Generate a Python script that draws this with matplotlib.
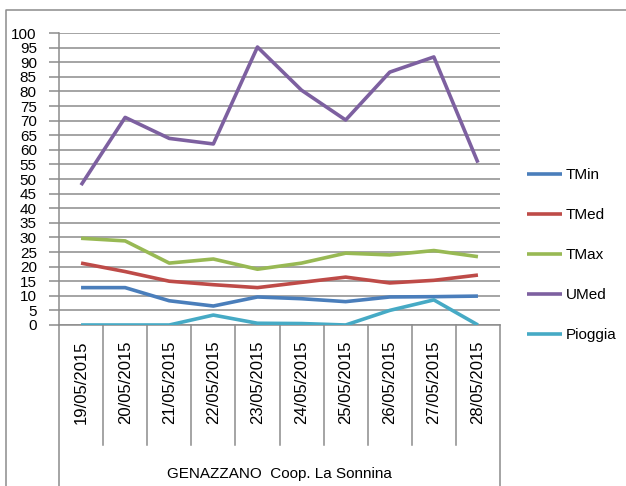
import matplotlib
matplotlib.use("Agg")
import matplotlib.pyplot as plt
from matplotlib.lines import Line2D
from matplotlib.transforms import blended_transform_factory

plt.rcParams['font.family'] = ['Liberation Sans', 'DejaVu Sans']

dates = ["19/05/2015", "20/05/2015", "21/05/2015", "22/05/2015", "23/05/2015",
         "24/05/2015", "25/05/2015", "26/05/2015", "27/05/2015", "28/05/2015"]
tmin = [12.8, 12.8, 8.3, 6.5, 9.6, 9.0, 8.0, 9.6, 9.7, 9.9]
tmed = [21.2, 18.3, 15.0, 13.8, 12.8, 14.6, 16.4, 14.4, 15.3, 17.1]
tmax = [29.7, 28.8, 21.2, 22.6, 19.1, 21.2, 24.6, 24.0, 25.5, 23.4]
umed = [47.9, 71.1, 63.9, 62.0, 95.2, 80.4, 70.2, 86.6, 91.8, 55.6]
pioggia = [0.0, 0.0, 0.0, 3.4, 0.6, 0.5, 0.0, 5.0, 8.6, 0.0]
series = ["TMin", "TMed", "TMax", "UMed", "Pioggia"]
station = "GENAZZANO  Coop. La Sonnina"

colors = ["#4A7EBB", "#BE4B48", "#98B954", "#7D60A0", "#46AAC5"]
grid_col = "#8C8C8C"

W, H = 626, 486
fig = plt.figure(figsize=(W / 100, H / 100), dpi=100)
ax = fig.add_axes([59 / W, (H - 325) / H, 441 / W, 292 / H])

x = list(range(len(dates)))
for vals, name, c in zip([tmin, tmed, tmax, umed, pioggia], series, colors):
    ax.plot(x, vals, color=c, lw=2.6, label=name, solid_capstyle="butt",
            solid_joinstyle="round", zorder=3)

ax.set_xlim(-0.5, len(dates) - 0.5)
ax.set_ylim(0, 100)
ax.set_yticks(range(0, 101, 5))
ax.yaxis.grid(True, color=grid_col, lw=1.1)
ax.set_axisbelow(True)
ax.tick_params(axis="y", length=7, color=grid_col, width=1.1, pad=9,
               labelsize=11, labelcolor="black")
for s in ["top", "right"]:
    ax.spines[s].set_visible(False)
for s in ["left", "bottom"]:
    ax.spines[s].set_color(grid_col)
    ax.spines[s].set_linewidth(1.1)

ax.set_xticks(x)
ax.set_xticklabels(dates, rotation=90, fontsize=12, va="top")
ax.tick_params(axis="x", length=0, pad=11)

# category boxes below the axis
tr = blended_transform_factory(ax.transData, ax.transAxes)
inner_bot = -(445 - 325) / 292
outer_bot = -(H - 325) / 292
for b in range(len(dates) + 1):
    xb = b - 0.5
    yb = outer_bot if b in (0, len(dates)) else inner_bot
    ax.add_line(Line2D([xb, xb], [0, yb], transform=tr, color=grid_col,
                       lw=1.1, clip_on=False))
ax.text((len(dates) - 1) / 2, -(474 - 325) / 292, station, transform=tr,
        ha="center", va="center", fontsize=11)

# outer chart frame
fig.add_artist(Line2D([6 / W, 6 / W, 1], [0, 1 - 10 / H, 1 - 10 / H],
                      color=grid_col, lw=1.1))

fig.legend(loc="upper left", bbox_to_anchor=(527 / W, (H - 168) / H),
           frameon=False, fontsize=11, handlelength=2.3, handletextpad=0.25,
           labelspacing=1.7, borderpad=0, borderaxespad=0)

fig.savefig("out.png", dpi=100, facecolor="white")
